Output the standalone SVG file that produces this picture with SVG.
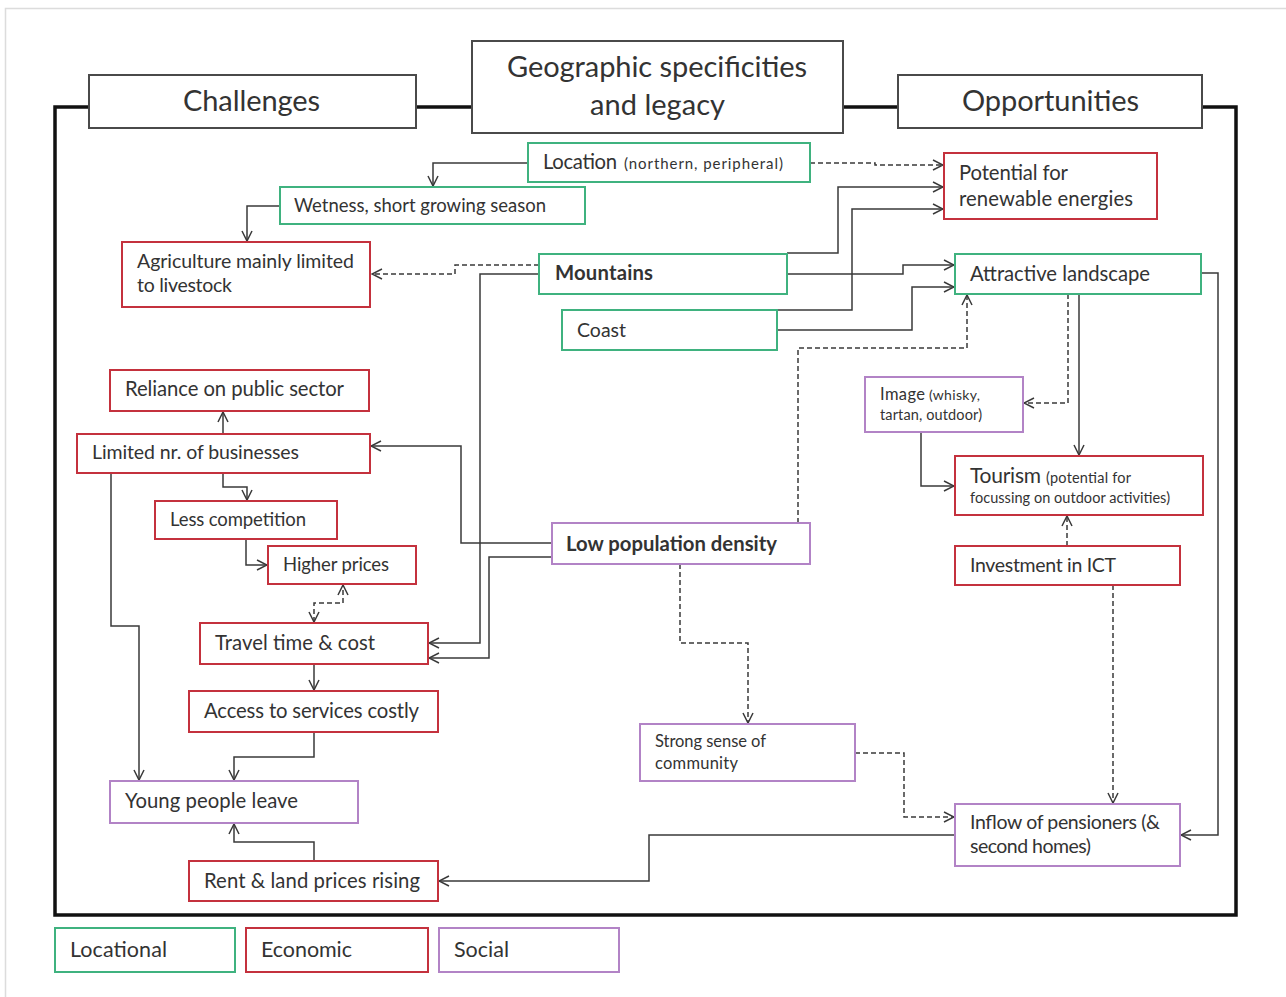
<svg xmlns="http://www.w3.org/2000/svg" width="1286" height="997" viewBox="0 0 1286 997">
<style>
text{font-family:Lato,"Open Sans","Liberation Sans",sans-serif;fill:#333}
.hdr{fill:#fff;stroke:#4a4a4a;stroke-width:2}
.ht{font-size:29px}
.loc{fill:#fff;stroke:#3fb27f;stroke-width:2}
.eco{fill:#fff;stroke:#c4313d;stroke-width:2}
.soc{fill:#fff;stroke:#b283c6;stroke-width:2}
.t18{font-size:18.5px}
.t19{font-size:19.5px}
.t20{font-size:20.3px}
.t21{font-size:21.5px}
.b{font-weight:bold}
.c{fill:none;stroke:#3a3a3a;stroke-width:1.5;marker-end:url(#arr)}
.d{stroke-dasharray:5,3}
</style>
<defs>
<marker id="arr" viewBox="0 0 12 12" refX="11" refY="6" markerWidth="12" markerHeight="12" markerUnits="userSpaceOnUse" orient="auto-start-reverse">
<path d="M1,1 L11,6 L1,11" fill="none" stroke="#3a3a3a" stroke-width="1.5"/>
</marker>
</defs>
<rect x="0" y="0" width="1286" height="997" fill="#fff"/>
<rect x="5.5" y="8.5" width="1300" height="1000" fill="none" stroke="#dcdcdc" stroke-width="1.5"/>
<g id="frame">
<path d="M89,107 H55 V915 H1236 V107 H1202 M416,107 H472 M843,107 H898" fill="none" stroke="#111" stroke-width="3.5"/>
</g>
<g id="headers">
<g id="challenges"><rect class="hdr" x="89" y="75" width="327" height="53"/><text class="ht" x="183" y="111" textLength="137">Challenges</text></g>
<g id="geographic"><rect class="hdr" x="472" y="41" width="371" height="92"/><text class="ht" x="507" y="77" textLength="300">Geographic specificities</text><text class="ht" x="590" y="115" textLength="135">and legacy</text></g>
<g id="opportunities"><rect class="hdr" x="898" y="75" width="304" height="53"/><text class="ht" x="962" y="111" textLength="177">Opportunities</text></g>
</g>
<g id="connectors">
<path class="c" d="M528,163 H433 V186"/>
<path class="c" d="M280,206 H247 V241"/>
<path class="c d" d="M539,265 H455 V274 H372"/>
<path class="c" d="M539,274 H480 V643 H429"/>
<path class="c" d="M552,543 H461 V446 H371"/>
<path class="c" d="M552,557 H489 V658 H429"/>
<path class="c" d="M223,434 V412"/>
<path class="c" d="M223,473 V487 H247 V500"/>
<path class="c" d="M246,539 V565 H267"/>
<path class="c d" style="marker-start:url(#arr)" d="M314,622 V603 H343 V585"/>
<path class="c" d="M314,664 V690"/>
<path class="c" d="M314,732 V757 H234 V780"/>
<path class="c" d="M111,473 V626 H139 V780"/>
<path class="c" d="M314,861 V842 H234 V824"/>
<path class="c" d="M955,835 H649 V881 H439"/>
<path class="c d" d="M855,753 H904 V817 H954"/>
<path class="c d" d="M680,564 V643 H748 V723"/>
<path class="c d" d="M798,523 V348 H967 V295"/>
<path class="c d" d="M810,163 H875 V165 H943"/>
<path class="c" d="M787,253 H838 V187 H943"/>
<path class="c" d="M787,274 H903 V265 H954"/>
<path class="c" d="M777,310 H852 V209 H943"/>
<path class="c" d="M777,330 H912 V287 H954"/>
<path class="c" d="M1079,294 V455"/>
<path class="c d" d="M1068,294 V403 H1024"/>
<path class="c" d="M921,432 V486 H954"/>
<path class="c d" d="M1067,546 V516"/>
<path class="c d" d="M1113,585 V803"/>
<path class="c" d="M1201,273 H1218 V835 H1181"/>
</g>
<g id="location"><rect class="loc" x="528" y="143" width="282" height="39"/><text x="543" y="169" class="t20" textLength="74">Location</text><text x="624" y="169" style="font-size:15px" textLength="159">(northern, peripheral)</text></g>
<g id="wetness"><rect class="loc" x="280" y="187" width="305" height="37"/><text x="294" y="212" class="t18" textLength="252">Wetness, short growing season</text></g>
<g id="agriculture"><rect class="eco" x="122" y="242" width="248" height="65"/><text x="137" y="268" class="t19" textLength="217">Agriculture mainly limited</text><text x="137" y="292" class="t19" textLength="95">to livestock</text></g>
<g id="mountains"><rect class="loc" x="539" y="254" width="248" height="40"/><text x="555" y="280" class="t20 b" textLength="98">Mountains</text></g>
<g id="coast"><rect class="loc" x="562" y="310" width="215" height="40"/><text x="577" y="337" class="t19" textLength="49">Coast</text></g>
<g id="renewable"><rect class="eco" x="944" y="153" width="213" height="66"/><text x="959" y="180" class="t20" textLength="109">Potential for</text><text x="959" y="206" class="t20" textLength="174">renewable energies</text></g>
<g id="landscape"><rect class="loc" x="955" y="254" width="246" height="40"/><text x="970" y="281" class="t20" textLength="180">Attractive landscape</text></g>
<g id="reliance"><rect class="eco" x="110" y="370" width="259" height="41"/><text x="125" y="396" class="t20" textLength="219">Reliance on public sector</text></g>
<g id="limited"><rect class="eco" x="77" y="434" width="293" height="39"/><text x="92" y="459" class="t19" textLength="207">Limited nr. of businesses</text></g>
<g id="competition"><rect class="eco" x="155" y="501" width="182" height="38"/><text x="170" y="526" class="t18" textLength="136">Less competition</text></g>
<g id="prices"><rect class="eco" x="268" y="546" width="148" height="38"/><text x="283" y="571" class="t18" textLength="106">Higher prices</text></g>
<g id="travel"><rect class="eco" x="200" y="623" width="228" height="41"/><text x="215" y="650" class="t20" textLength="160">Travel time &amp; cost</text></g>
<g id="access"><rect class="eco" x="189" y="691" width="249" height="41"/><text x="204" y="718" class="t20" textLength="215">Access to services costly</text></g>
<g id="young"><rect class="soc" x="110" y="781" width="248" height="42"/><text x="125" y="808" class="t20" textLength="173">Young people leave</text></g>
<g id="rent"><rect class="eco" x="189" y="861" width="249" height="40"/><text x="204" y="888" class="t20" textLength="216">Rent &amp; land prices rising</text></g>
<g id="density"><rect class="soc" x="552" y="523" width="258" height="41"/><text x="566" y="551" class="t20 b" textLength="211">Low population density</text></g>
<g id="image"><rect class="soc" x="865" y="377" width="158" height="55"/><text x="880" y="400" style="font-size:16.5px" textLength="45">Image</text><text x="929" y="400" style="font-size:14px" textLength="51">(whisky,</text><text x="880" y="420" style="font-size:14.5px" textLength="102">tartan, outdoor)</text></g>
<g id="tourism"><rect class="eco" x="955" y="456" width="248" height="59"/><text x="970" y="483" style="font-size:21px" textLength="71">Tourism</text><text x="1046" y="483" style="font-size:14.5px" textLength="85">(potential for</text><text x="970" y="503" style="font-size:14.5px" textLength="200">focussing on outdoor activities)</text></g>
<g id="ict"><rect class="eco" x="955" y="546" width="225" height="39"/><text x="970" y="572" class="t19" textLength="146">Investment in ICT</text></g>
<g id="community"><rect class="soc" x="640" y="724" width="215" height="57"/><text x="655" y="747" style="font-size:16.5px" textLength="111">Strong sense of</text><text x="655" y="769" style="font-size:16.5px" textLength="83">community</text></g>
<g id="inflow"><rect class="soc" x="955" y="804" width="225" height="62"/><text x="970" y="829" class="t19" textLength="190">Inflow of pensioners (&amp;</text><text x="970" y="853" class="t19" textLength="121">second homes)</text></g>
<g id="legend">
<g id="leg-loc"><rect class="loc" x="55" y="928" width="180" height="44"/><text x="70" y="957" class="t21" textLength="97">Locational</text></g>
<g id="leg-eco"><rect class="eco" x="246" y="928" width="182" height="44"/><text x="261" y="957" class="t21" textLength="91">Economic</text></g>
<g id="leg-soc"><rect class="soc" x="439" y="928" width="180" height="44"/><text x="454" y="957" class="t21" textLength="55">Social</text></g>
</g>
</svg>
